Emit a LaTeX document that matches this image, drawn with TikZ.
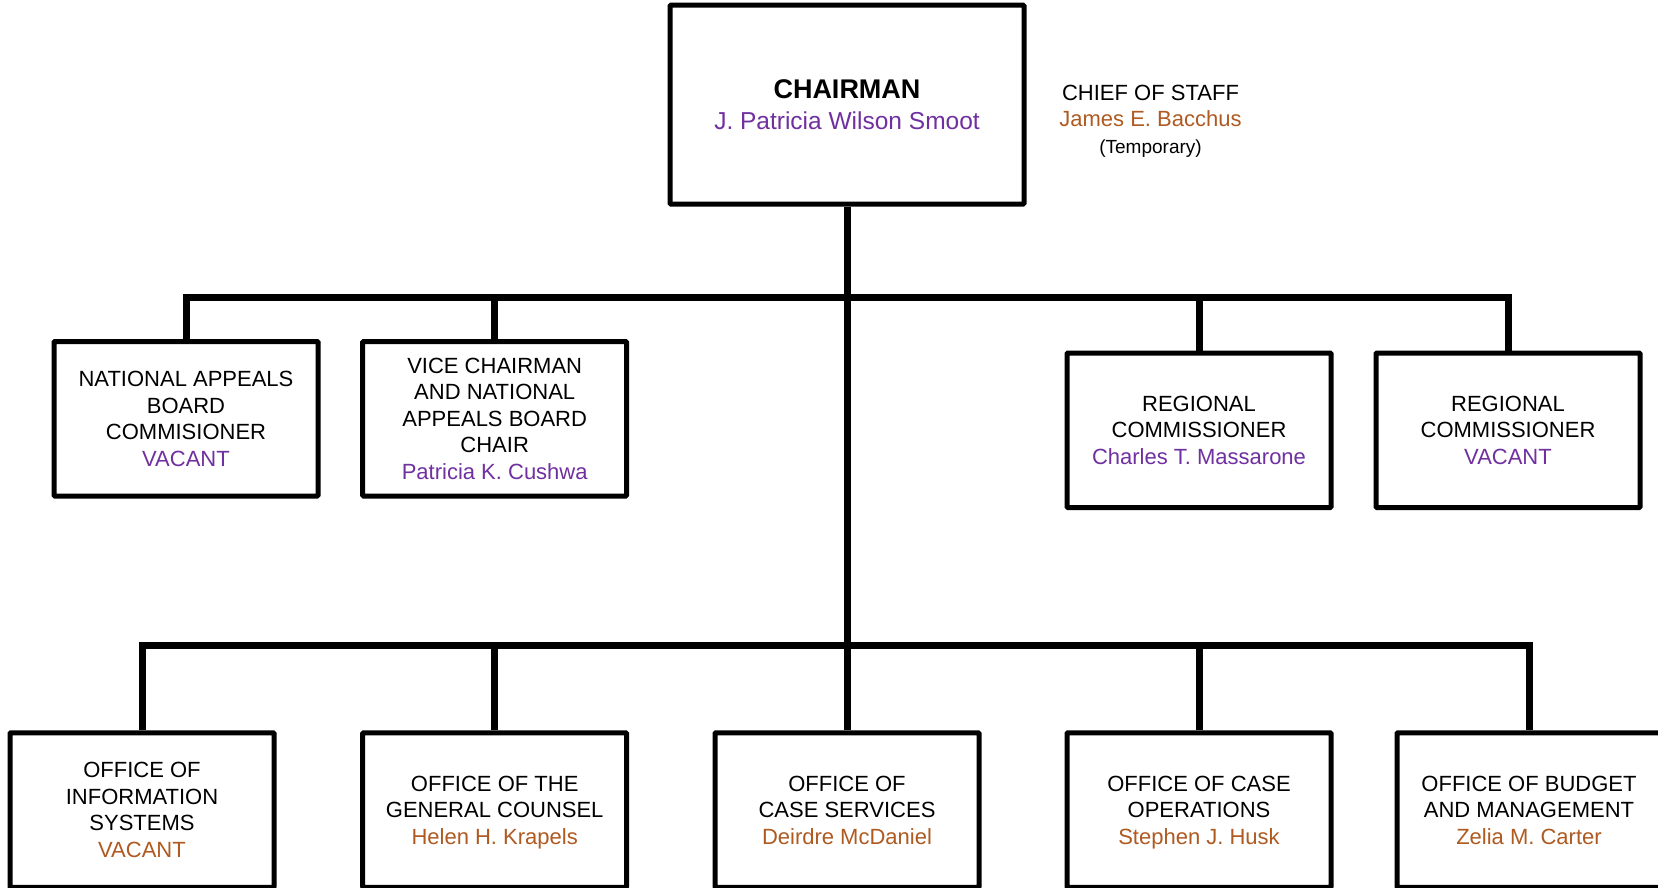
\documentclass[tikz,border=0pt]{standalone}
\usepackage{fontspec}
\setmainfont{Liberation Sans}
\definecolor{namepurple}{HTML}{7030A0}
\definecolor{namebrown}{HTML}{AE5A21}
\begin{document}
\begin{tikzpicture}[x=1pt,y=-1pt,
  box/.style={draw=black, line width=5pt, rounded corners=1pt, fill=white,
    minimum width=264pt, minimum height=154.5pt, inner sep=0pt},
  boxtext/.style={align=center, inner sep=0pt,
    font=\fontsize{22}{26.5}\selectfont,
    execute at begin node=\strut, execute at end node=\strut},
  link/.style={line width=7pt}]
\useasboundingbox (0,0) rectangle (1658,888);

% top of the chart
\node[box, minimum width=354pt, minimum height=199pt] (chair) at (847,104.6) {};
\node[boxtext, font=\fontsize{24.5}{31.7}\selectfont] (chair-t)
  at ([yshift=-4.8pt]chair.center)
  {{\fontsize{27}{31.7}\selectfont\bfseries CHAIRMAN}\\
   \textcolor{namepurple}{J. Patricia Wilson Smoot}};
\node[boxtext, font=\fontsize{22}{26.4}\selectfont] (staff) at (1150.5,123)
  {CHIEF OF STAFF\\
   \textcolor{namebrown}{James E. Bacchus}\\
   {\fontsize{19}{26.4}\selectfont (Temporary)}};

% commissioners
\node[box] (nabc) at (186,418.75) {};
\node[boxtext] (nabc-t) at ([yshift=-4pt]nabc.center)
  {NATIONAL APPEALS\\BOARD\\COMMISIONER\\\textcolor{namepurple}{VACANT}};
\node[box] (vice) at (494.7,418.75) {};
\node[boxtext] (vice-t) at ([yshift=-4pt]vice.center)
  {VICE CHAIRMAN\\AND NATIONAL\\APPEALS BOARD\\CHAIR\\\textcolor{namepurple}{Patricia K. Cushwa}};
\node[box] (reg1) at (1199,430.25) {};
\node[boxtext] (reg1-t) at ([yshift=-4pt]reg1.center)
  {REGIONAL\\COMMISSIONER\\\textcolor{namepurple}{Charles T. Massarone}};
\node[box] (reg2) at (1508,430.25) {};
\node[boxtext] (reg2-t) at ([yshift=-4pt]reg2.center)
  {REGIONAL\\COMMISSIONER\\\textcolor{namepurple}{VACANT}};

% offices
\node[box] (ois) at (142,810) {};
\node[boxtext] (ois-t) at ([yshift=-4pt]ois.center)
  {OFFICE OF\\INFORMATION\\SYSTEMS\\\textcolor{namebrown}{VACANT}};
\node[box] (ogc) at (494.7,810) {};
\node[boxtext] (ogc-t) at ([yshift=-4pt]ogc.center)
  {OFFICE OF THE\\GENERAL COUNSEL\\\textcolor{namebrown}{Helen H. Krapels}};
\node[box] (ocs) at (847,810) {};
\node[boxtext] (ocs-t) at ([yshift=-4pt]ocs.center)
  {OFFICE OF\\CASE SERVICES\\\textcolor{namebrown}{Deirdre McDaniel}};
\node[box] (oco) at (1199,810) {};
\node[boxtext] (oco-t) at ([yshift=-4pt]oco.center)
  {OFFICE OF CASE\\OPERATIONS\\\textcolor{namebrown}{Stephen J. Husk}};
\node[box] (obm) at (1529,810) {};
\node[boxtext] (obm-t) at ([yshift=-4pt]obm.center)
  {OFFICE OF BUDGET\\AND MANAGEMENT\\\textcolor{namebrown}{Zelia M. Carter}};

% bus lines
\coordinate (upbar) at (847,297);
\coordinate (lowbar) at (847,645);

\draw[link] (chair.south) -- (ocs.north);

\draw[link] (nabc.north) -- (nabc.north |- upbar) -- (reg2.north |- upbar) -- (reg2.north);
\draw[link] (vice.north) -- (vice.north |- upbar);
\draw[link] (reg1.north) -- (reg1.north |- upbar);

\draw[link] (ois.north) -- (ois.north |- lowbar) -- (obm.north |- lowbar) -- (obm.north);
\draw[link] (ogc.north) -- (ogc.north |- lowbar);
\draw[link] (oco.north) -- (oco.north |- lowbar);
\end{tikzpicture}
\end{document}
